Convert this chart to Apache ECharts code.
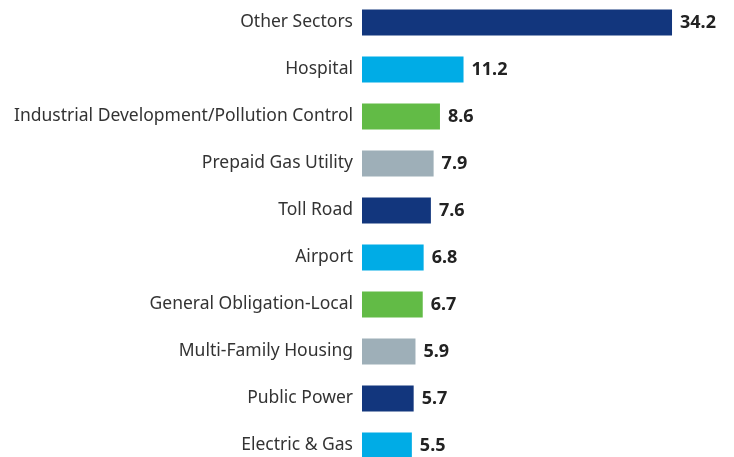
<!DOCTYPE html>
<html>
<head>
<meta charset="utf-8">
<script src="https://cdn.jsdelivr.net/npm/echarts@6/dist/echarts.min.js"></script>
<style>
  html, body { margin: 0; padding: 0; background: #fff; }
  #chart { width: 734px; height: 457px; }
</style>
</head>
<body>
<div id="chart"></div>
<script>
// sectors, top to bottom
const sectors = [
    'Other Sectors', 'Hospital', 'Industrial Development/Pollution Control',
    'Prepaid Gas Utility', 'Toll Road', 'Airport', 'General Obligation-Local',
    'Multi-Family Housing', 'Public Power', 'Electric & Gas'
];
const shares = [34.2, 11.2, 8.6, 7.9, 7.6, 6.8, 6.7, 5.9, 5.7, 5.5];

// colours repeat every four bars
const palette = ['#12367d', '#00ace6', '#62bb46', '#9eafb8'];

const chart = echarts.init(document.getElementById('chart'));

chart.setOption({
    animation: false,
    grid: { left: 362, right: 9.4, top: -1, height: 470, outerBoundsMode: 'none' },
    xAxis: {
        type: 'value', min: 0, max: 40, show: false
    },
    yAxis: {
        type: 'category',
        data: sectors,
        inverse: true,
        axisLine: { show: false },
        axisTick: { show: false },
        axisLabel: {
            margin: 9,
            color: '#333',
            fontFamily: 'Noto Sans',
            fontSize: 17.5
        }
    },
    series: [{
        type: 'bar',
        barWidth: 26,
        data: shares.map((v, i) => ({
            value: v,
            itemStyle: { color: palette[i % palette.length] }
        })),
        label: {
            show: true,
            position: 'right',
            distance: 8,
            formatter: p => p.value.toFixed(1),
            color: '#222',
            fontFamily: 'Noto Sans',
            fontWeight: 'bold',
            fontSize: 18
        }
    }]
});
</script>
</body>
</html>
